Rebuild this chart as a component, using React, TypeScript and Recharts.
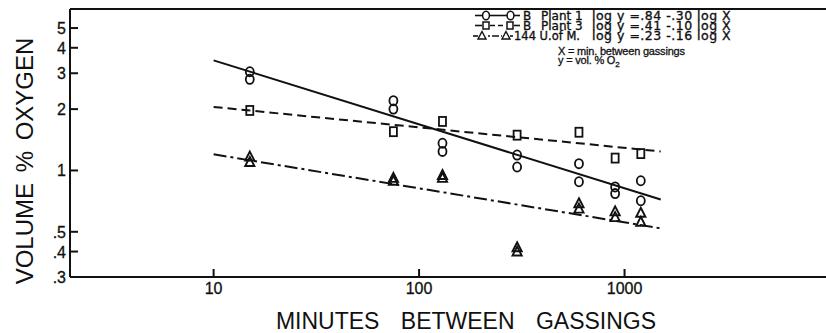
import React from 'react'
import {
  ComposedChart,
  Line,
  Scatter,
  XAxis,
  YAxis,
  ReferenceLine,
  Legend,
  Label,
} from 'recharts'

// minutes between gassings for each plotted point
const plant1Times = [15, 15, 75, 75, 130, 130, 300, 300, 600, 600, 900, 900, 1200, 1200]
const plant1Values = [3.05, 2.8, 2.2, 2.0, 1.36, 1.24, 1.19, 1.04, 1.08, 0.88, 0.83, 0.77, 0.89, 0.71]

const plant3Times = [15, 75, 130, 300, 600, 900, 1200]
const plant3Values = [1.97, 1.55, 1.74, 1.49, 1.54, 1.15, 1.21]

const umTimes = [15, 15, 75, 75, 130, 130, 300, 300, 600, 600, 900, 900, 1200, 1200]
const umValues = [1.17, 1.1, 0.92, 0.89, 0.95, 0.92, 0.42, 0.4, 0.69, 0.65, 0.63, 0.59, 0.62, 0.56]

// fitted lines, end points
const fitTimes = [10, 1500]
const plant1Fit = [3.47, 0.72]
const plant3Fit = [2.05, 1.24]
const umFit = [1.2, 0.52]

const xTicks = [10, 100, 1000]
const xTickLabels = ['10', '100', '1000']
const yTicks = [0.3, 0.4, 0.5, 1, 2, 3, 4, 5]
const yTickLabels = ['.3', '.4', '.5', '1', '2', '3', '4', '5']

const toPoints = (xs: number[], ys: number[]) => ys.map((y, i) => ({ x: xs[i], y }))

const plant1Data = toPoints(plant1Times, plant1Values)
const plant3Data = toPoints(plant3Times, plant3Values)
const umData = toPoints(umTimes, umValues)
const plant1Line = toPoints(fitTimes, plant1Fit)
const plant3Line = toPoints(fitTimes, plant3Fit)
const umLine = toPoints(fitTimes, umFit)

const INK = '#111'
const SANS = '"Liberation Sans", Arial, sans-serif'
const LEGEND_FONT = '"DejaVu Sans", sans-serif'

const CircleMark = ({ cx, cy }: any) => (
  <ellipse cx={cx} cy={cy} rx={4} ry={4.6} fill="none" stroke={INK} strokeWidth={1.8} />
)

const SquareMark = ({ cx, cy }: any) => (
  <rect x={cx - 3.5} y={cy - 4.5} width={7} height={9} fill="none" stroke={INK} strokeWidth={1.8} />
)

const TriangleMark = ({ cx, cy }: any) => (
  <path
    d={`M${cx},${cy - 5} L${cx + 4.6},${cy + 4} L${cx - 4.6},${cy + 4} Z`}
    fill="none"
    stroke={INK}
    strokeWidth={1.9}
  />
)

const YTick = ({ x, y, payload }: any) => {
  const idx = yTicks.indexOf(payload.value)
  return (
    <g>
      <line x1={x} x2={x + 8} y1={y} y2={y} stroke={INK} strokeWidth={2} />
      <text x={x - 4} y={y} dy={6} textAnchor="end" fontSize={16} fontFamily={SANS} fill={INK} stroke={INK} strokeWidth={0.3}>
        {yTickLabels[idx]}
      </text>
    </g>
  )
}

const XTick = ({ x, y, payload }: any) => {
  const idx = xTicks.indexOf(payload.value)
  return (
    <g>
      <line x1={x} x2={x} y1={y} y2={y - 8} stroke={INK} strokeWidth={2} />
      <text x={x} y={y + 17} textAnchor="middle" fontSize={16} fontFamily={SANS} fill={INK} stroke={INK} strokeWidth={0.3}>
        {xTickLabels[idx]}
      </text>
    </g>
  )
}

const YTitle = ({ viewBox }: any) => {
  const x = viewBox.x - 7
  const y = viewBox.y + viewBox.height / 2 + 18
  return (
    <text
      x={x}
      y={y}
      transform={`rotate(-90 ${x} ${y})`}
      textAnchor="middle"
      fontSize={24}
      fontFamily={SANS}
      fill={INK}
      style={{ wordSpacing: 4 }}
    >
      VOLUME % OXYGEN
    </text>
  )
}

const XTitle = ({ viewBox }: any) => (
  <text
    x={viewBox.x + 396}
    y={viewBox.y + 52}
    textAnchor="middle"
    fontSize={23}
    fontFamily={SANS}
    fill={INK}
    style={{ wordSpacing: 15 }}
  >
    MINUTES BETWEEN GASSINGS
  </text>
)

const keyText = { fontSize: 12, fontFamily: LEGEND_FONT, fill: INK, stroke: INK, strokeWidth: 0.35 }
const eqText = { fontSize: 12.5, fontFamily: LEGEND_FONT, fill: INK, stroke: INK, strokeWidth: 0.35, letterSpacing: 0.5 }
const noteText = { fontSize: 11, fontFamily: SANS, fill: INK, stroke: INK, strokeWidth: 0.3, letterSpacing: -0.2 }

const KeyBox = () => (
  <svg width={826} height={70} style={{ display: 'block' }}>
    {/* row 1 */}
    <line x1={475} x2={482} y1={15.5} y2={15.5} stroke={INK} strokeWidth={1.6} />
    <ellipse cx={486} cy={15.5} rx={3.4} ry={4.3} fill="none" stroke={INK} strokeWidth={1.5} />
    <line x1={489.5} x2={507} y1={15.5} y2={15.5} stroke={INK} strokeWidth={1.6} />
    <ellipse cx={510.5} cy={15.5} rx={3.4} ry={4.3} fill="none" stroke={INK} strokeWidth={1.5} />
    <line x1={514} x2={520} y1={15.5} y2={15.5} stroke={INK} strokeWidth={1.6} />
    <text x={523} y={20} {...keyText}>B</text>
    <text x={541} y={20} {...keyText}>Plant 1</text>
    <text x={592} y={20} {...eqText}>log y =.84 -.30 log X</text>
    {/* row 2 */}
    <line x1={475} x2={482} y1={25.5} y2={25.5} stroke={INK} strokeWidth={1.6} />
    <rect x={483} y={22} width={6} height={7} fill="none" stroke={INK} strokeWidth={1.5} />
    <line x1={490} x2={506} y1={25.5} y2={25.5} stroke={INK} strokeWidth={1.6} strokeDasharray="5 3" />
    <rect x={507} y={22} width={6} height={7} fill="none" stroke={INK} strokeWidth={1.5} />
    <line x1={514} x2={520} y1={25.5} y2={25.5} stroke={INK} strokeWidth={1.6} />
    <text x={523} y={30} {...keyText}>B</text>
    <text x={541} y={30} {...keyText}>Plant 3</text>
    <text x={592} y={30} {...eqText}>log y =.41 -.10 log X</text>
    {/* row 3 */}
    <line x1={473} x2={478} y1={36} y2={36} stroke={INK} strokeWidth={1.6} />
    <path d="M482,31.5 L486,39 L478,39 Z" fill="none" stroke={INK} strokeWidth={1.4} />
    <line x1={488} x2={502} y1={36} y2={36} stroke={INK} strokeWidth={1.6} strokeDasharray="2 2 7 2" />
    <path d="M506,31.5 L510,39 L502,39 Z" fill="none" stroke={INK} strokeWidth={1.4} />
    <line x1={510} x2={513} y1={36} y2={36} stroke={INK} strokeWidth={1.6} />
    <text x={514} y={40} {...keyText} fontSize={11.5}>144 U.of M.</text>
    <text x={592} y={40} {...eqText}>log y =.23 -.16 log X</text>
    {/* key to the equations */}
    <text x={558} y={55} {...noteText}>X = min. between gassings</text>
    <text x={558} y={64} {...noteText}>
      y = vol. % O<tspan dy={3} fontSize={8}>2</tspan>
    </text>
  </svg>
)

export default function App() {
  return (
    <div
      style={{
        position: 'absolute',
        left: 0,
        top: 0,
        width: 826,
        height: 333,
        overflow: 'hidden',
        background: '#fff',
      }}
    >
      <ComposedChart width={840} height={333} margin={{ top: 9, right: 10, bottom: 26, left: 40 }}>
        <XAxis
          dataKey="x"
          type="number"
          scale="log"
          domain={[2, 10000]}
          allowDataOverflow
          ticks={xTicks}
          interval={0}
          tickSize={0}
          tickMargin={0}
          tick={<XTick />}
          tickLine={false}
          axisLine={{ stroke: INK, strokeWidth: 2 }}
          height={30}
        >
          <Label content={<XTitle />} />
        </XAxis>
        <YAxis
          type="number"
          scale="log"
          domain={[0.3, 6.2]}
          allowDataOverflow
          ticks={yTicks}
          interval={0}
          tickSize={0}
          tickMargin={0}
          tick={<YTick />}
          tickLine={false}
          axisLine={{ stroke: INK, strokeWidth: 2 }}
          width={30}
        >
          <Label content={<YTitle />} />
        </YAxis>
        <ReferenceLine y={6.2} stroke={INK} strokeWidth={2} />
        <Legend
          layout="horizontal"
          verticalAlign="middle"
          align="center"
          content={<KeyBox />}
          wrapperStyle={{ left: 0, top: 0, width: 826, height: 70 }}
        />
        <Line
          data={plant1Line}
          dataKey="y"
          type="linear"
          stroke={INK}
          strokeWidth={2}
          dot={false}
          activeDot={false}
          isAnimationActive={false}
        />
        <Line
          data={plant3Line}
          dataKey="y"
          type="linear"
          stroke={INK}
          strokeWidth={2}
          strokeDasharray="9 5"
          dot={false}
          activeDot={false}
          isAnimationActive={false}
        />
        <Line
          data={umLine}
          dataKey="y"
          type="linear"
          stroke={INK}
          strokeWidth={2}
          strokeDasharray="13 4 3 4"
          dot={false}
          activeDot={false}
          isAnimationActive={false}
        />
        <Scatter data={plant1Data} dataKey="y" shape={<CircleMark />} isAnimationActive={false} />
        <Scatter data={plant3Data} dataKey="y" shape={<SquareMark />} isAnimationActive={false} />
        <Scatter data={umData} dataKey="y" shape={<TriangleMark />} isAnimationActive={false} />
      </ComposedChart>
    </div>
  )
}
